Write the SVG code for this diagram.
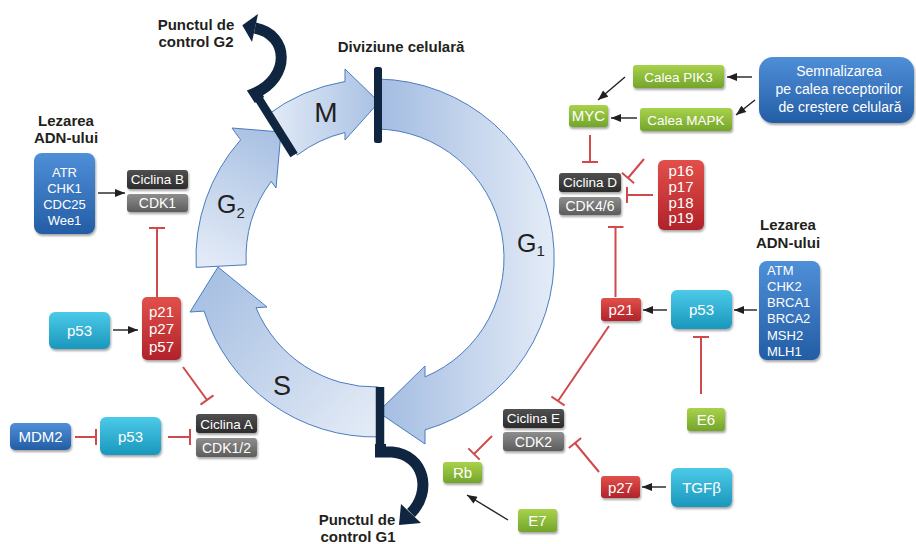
<svg xmlns="http://www.w3.org/2000/svg" width="916" height="544" viewBox="0 0 916 544">
<defs>
<style>
text{font-family:"Liberation Sans",Arial,sans-serif;}
.bt{fill:#fff;text-anchor:middle;}
.bl{fill:#fff;}
.lbl{fill:#231f20;font-weight:bold;font-size:15px;text-anchor:middle;}
.ph{fill:#231f20;}
.ring{stroke:#4a7cc0;stroke-width:1;}
.bar{fill:none;stroke:#0f2540;stroke-width:8.5;stroke-linejoin:miter;}
.hook{fill:none;stroke:#0f2540;stroke-width:11;stroke-linejoin:miter;}
.act{fill:none;stroke:#231f20;stroke-width:1.4;marker-end:url(#ah);}
.inh{fill:none;stroke:#d0494b;stroke-width:2;marker-end:url(#tb);}
.blue{fill:url(#gBlue);filter:url(#sh);}
.cyan{fill:url(#gCyan);filter:url(#sh);}
.green{fill:url(#gGreen);filter:url(#sh);}
.red{fill:url(#gRed);filter:url(#sh);}
.dark{fill:url(#gDark);filter:url(#sh);}
.gray{fill:url(#gGray);filter:url(#sh);}
</style>
<filter id="sh" x="-20%" y="-20%" width="140%" height="150%">
<feDropShadow dx="1" dy="2" stdDeviation="1.3" flood-color="#000" flood-opacity="0.35"/>
</filter>
<linearGradient id="gBlue" x1="0" y1="0" x2="0" y2="1"><stop offset="0" stop-color="#4f8fd8"/><stop offset="1" stop-color="#235da5"/></linearGradient>
<linearGradient id="gCyan" x1="0" y1="0" x2="0" y2="1"><stop offset="0" stop-color="#4ccae8"/><stop offset="1" stop-color="#1a97bd"/></linearGradient>
<linearGradient id="gGreen" x1="0" y1="0" x2="0" y2="1"><stop offset="0" stop-color="#a9d24c"/><stop offset="1" stop-color="#73a52a"/></linearGradient>
<linearGradient id="gRed" x1="0" y1="0" x2="0" y2="1"><stop offset="0" stop-color="#e2504b"/><stop offset="1" stop-color="#b1222a"/></linearGradient>
<linearGradient id="gDark" x1="0" y1="0" x2="0" y2="1"><stop offset="0" stop-color="#505050"/><stop offset="1" stop-color="#2c2c2c"/></linearGradient>
<linearGradient id="gGray" x1="0" y1="0" x2="0" y2="1"><stop offset="0" stop-color="#8e8e8e"/><stop offset="1" stop-color="#5c5c5c"/></linearGradient>
<linearGradient id="gG1" gradientUnits="userSpaceOnUse" x1="378" y1="0" x2="555" y2="0"><stop offset="0" stop-color="#a3bce1"/><stop offset="1" stop-color="#e4ecf7"/></linearGradient>
<linearGradient id="gM" gradientUnits="userSpaceOnUse" x1="267" y1="0" x2="379" y2="0"><stop offset="0" stop-color="#e4ecf7"/><stop offset="1" stop-color="#a9c1e3"/></linearGradient>
<linearGradient id="gG2" gradientUnits="userSpaceOnUse" x1="215" y1="265" x2="275" y2="135"><stop offset="0" stop-color="#e2eaf6"/><stop offset="1" stop-color="#a9c1e3"/></linearGradient>
<linearGradient id="gS" gradientUnits="userSpaceOnUse" x1="375" y1="420" x2="215" y2="280"><stop offset="0" stop-color="#e2eaf6"/><stop offset="1" stop-color="#a9c1e3"/></linearGradient>
<marker id="ah" viewBox="0 0 10 8" refX="10" refY="4" markerWidth="11" markerHeight="8" markerUnits="userSpaceOnUse" orient="auto"><path d="M0,0 L10,4 L0,8 z" fill="#231f20"/></marker>
<marker id="tb" viewBox="0 0 4 16" refX="2" refY="8" markerWidth="4" markerHeight="16" markerUnits="userSpaceOnUse" orient="auto"><path d="M2,0 V16" stroke="#d0494b" stroke-width="2"/></marker>
</defs>
<rect width="916" height="544" fill="#fff"/>

<g id="cycle">
<path id="arrow-G1" class="ring" fill="url(#gG1)" d="M378.1 79 A179 179 0 0 1 425 429.9 L425 444 L378 412 L425 366 L425 376.9 A129 129 0 0 0 377.3 129 Z"/>
<path id="arrow-M" class="ring" fill="url(#gM)" d="M267.3 115 A179 179 0 0 1 345 81.5 L345 69 L379 102 L345 140 L345 132.5 A129 129 0 0 0 297.4 155 Z"/>
<path id="arrow-G2" class="ring" fill="url(#gG2)" d="M196.2 267.4 A179 179 0 0 1 240.6 139.8 L232 128 L281 132 L276 188 L271.2 181.4 A129 129 0 0 0 246.2 264.8 Z"/>
<path id="arrow-S" class="ring" fill="url(#gS)" d="M379.7 436.9 A179 179 0 0 1 204.1 311.1 L190 312 L218 267 L267 307 L256 307.7 A129 129 0 0 0 378.4 387 Z"/>
<rect x="374" y="67" width="8" height="76" rx="2.5" fill="#0f2540"/>
<path class="bar" d="M294 155 L257 96"/>
<path class="hook" d="M259.5 100 L255 93 C290 78 290 35 255 28"/>
<polygon points="242.3,25.2 258,14 252,42" fill="#0f2540"/>
<path class="bar" d="M380 387 L380 450"/>
<path class="hook" d="M380.5 444 L380.5 452 L392 452 C425 455 432 492 411 513"/>
<polygon points="399,525 401,504 421,523" fill="#0f2540"/>
<text class="ph" x="326" y="122" font-size="28" text-anchor="middle">M</text>
<text class="ph" x="217" y="213" font-size="25">G<tspan font-size="15" dy="5">2</tspan></text>
<text class="ph" x="517" y="252" font-size="25">G<tspan font-size="15" dy="4">1</tspan></text>
<text class="ph" x="282" y="395" font-size="27" text-anchor="middle">S</text>
</g>

<g id="labels">
<text class="lbl" x="196" y="30">Punctul de</text>
<text class="lbl" x="196" y="47">control G2</text>
<text class="lbl" x="401" y="52">Diviziune celulară</text>
<text class="lbl" x="66" y="126">Lezarea</text>
<text class="lbl" x="66" y="143">ADN-ului</text>
<text class="lbl" x="788" y="230">Lezarea</text>
<text class="lbl" x="788" y="248">ADN-ului</text>
<text class="lbl" x="357" y="525">Punctul de</text>
<text class="lbl" x="358" y="542">control G1</text>
</g>

<g id="connectors">
<line class="act" x1="98" y1="193" x2="125" y2="193"/>
<line class="act" x1="113" y1="330" x2="138" y2="330"/>
<line class="act" x1="752" y1="77" x2="727" y2="77"/>
<line class="act" x1="755" y1="100" x2="736" y2="115"/>
<line class="act" x1="625" y1="77" x2="598" y2="100"/>
<line class="act" x1="637" y1="118" x2="611" y2="118"/>
<line class="act" x1="667" y1="310" x2="643" y2="310"/>
<line class="act" x1="757" y1="310" x2="734" y2="310"/>
<line class="act" x1="666" y1="487" x2="642" y2="487"/>
<line class="act" x1="508" y1="520" x2="467" y2="495"/>
<line class="inh" x1="157" y1="297" x2="157" y2="228"/>
<line class="inh" x1="183" y1="367" x2="207" y2="400"/>
<line class="inh" x1="75" y1="437" x2="96" y2="437"/>
<line class="inh" x1="168" y1="437" x2="190" y2="437"/>
<line class="inh" x1="590" y1="135" x2="590" y2="162"/>
<line class="inh" x1="653" y1="195" x2="627" y2="195"/>
<line class="inh" x1="644" y1="159" x2="628" y2="178"/>
<line class="inh" x1="615.5" y1="297" x2="615.5" y2="227"/>
<line class="inh" x1="701" y1="394" x2="701" y2="337"/>
<line class="inh" x1="609" y1="326" x2="558" y2="401"/>
<line class="inh" x1="492" y1="436" x2="474" y2="454"/>
<line class="inh" x1="599" y1="472" x2="575" y2="443"/>
</g>

<g id="n-atr"><rect class="blue" x="34" y="153" width="61" height="81" rx="8"/>
<text class="bt" font-size="13"><tspan x="64.5" y="176.7">ATR</tspan><tspan x="64.5" y="192.7">CHK1</tspan><tspan x="64.5" y="208.7">CDC25</tspan><tspan x="64.5" y="224.7">Wee1</tspan></text></g>
<g id="n-ciclinaB"><rect class="dark" x="127" y="170" width="61" height="19" rx="3"/><text class="bt" x="157.5" y="184.3" font-size="13.5">Ciclina B</text></g>
<g id="n-cdk1"><rect class="gray" x="127" y="194" width="61" height="18" rx="3"/><text class="bt" x="157.5" y="208" font-size="14">CDK1</text></g>
<g id="n-p53a"><rect class="cyan" x="49" y="312" width="61" height="37" rx="6"/><text class="bt" x="79.5" y="336" font-size="15">p53</text></g>
<g id="n-p21p27p57"><rect class="red" x="142" y="297" width="39" height="63" rx="5"/>
<text class="bt" font-size="15"><tspan x="161.5" y="316.5">p21</tspan><tspan x="161.5" y="334">p27</tspan><tspan x="161.5" y="352">p57</tspan></text></g>
<g id="n-ciclinaA"><rect class="dark" x="196" y="414" width="61" height="19" rx="3"/><text class="bt" x="226.5" y="428.5" font-size="13.5">Ciclina A</text></g>
<g id="n-cdk12"><rect class="gray" x="196" y="438" width="61" height="19" rx="3"/><text class="bt" x="226.5" y="452.5" font-size="14">CDK1/2</text></g>
<g id="n-mdm2"><rect class="blue" x="10" y="423" width="61" height="27" rx="5"/><text class="bt" x="40.5" y="442" font-size="15">MDM2</text></g>
<g id="n-p53b"><rect class="cyan" x="100" y="417" width="61" height="38" rx="6"/><text class="bt" x="130.5" y="441.5" font-size="15">p53</text></g>

<g id="n-pik3"><rect class="green" x="633" y="65" width="91" height="23" rx="3"/><text class="bt" x="678.5" y="81.5" font-size="13.5">Calea PIK3</text></g>
<g id="n-semn"><rect class="blue" x="759" y="57" width="155" height="66" rx="14"/>
<text class="bt" font-size="14"><tspan x="839" y="76">Semnalizarea</tspan><tspan x="839" y="94">pe calea receptorilor</tspan><tspan x="840" y="112">de creștere celulară</tspan></text></g>
<g id="n-myc"><rect class="green" x="569" y="105" width="39" height="22" rx="3"/><text class="bt" x="588.5" y="121.4" font-size="15">MYC</text></g>
<g id="n-mapk"><rect class="green" x="640" y="108" width="92" height="23" rx="3"/><text class="bt" x="686" y="124.5" font-size="13.5">Calea MAPK</text></g>
<g id="n-ciclinaD"><rect class="dark" x="559" y="173" width="62" height="19" rx="3"/><text class="bt" x="590" y="187.3" font-size="13.5">Ciclina D</text></g>
<g id="n-cdk46"><rect class="gray" x="559" y="197" width="62" height="18" rx="3"/><text class="bt" x="590" y="211" font-size="14">CDK4/6</text></g>
<g id="n-p16"><rect class="red" x="658" y="160" width="46" height="70" rx="6"/>
<text class="bt" font-size="15"><tspan x="681" y="176">p16</tspan><tspan x="681" y="192">p17</tspan><tspan x="681" y="207.5">p18</tspan><tspan x="681" y="223">p19</tspan></text></g>
<g id="n-p21"><rect class="red" x="601" y="298" width="40" height="23" rx="3"/><text class="bt" x="621" y="315" font-size="15">p21</text></g>
<g id="n-p53c"><rect class="cyan" x="671" y="290" width="61" height="39" rx="6"/><text class="bt" x="701.5" y="315" font-size="15">p53</text></g>
<g id="n-atm"><rect class="blue" x="759" y="261" width="61" height="99" rx="8"/>
<text class="bl" font-size="13"><tspan x="767" y="275">ATM</tspan><tspan x="767" y="291">CHK2</tspan><tspan x="767" y="307">BRCA1</tspan><tspan x="767" y="323">BRCA2</tspan><tspan x="767" y="339.5">MSH2</tspan><tspan x="767" y="356">MLH1</tspan></text></g>
<g id="n-e6"><rect class="green" x="687" y="408" width="38" height="23" rx="3"/><text class="bt" x="706" y="425" font-size="15">E6</text></g>
<g id="n-ciclinaE"><rect class="dark" x="503" y="409" width="61" height="19" rx="3"/><text class="bt" x="533.5" y="423.3" font-size="13.5">Ciclina E</text></g>
<g id="n-cdk2"><rect class="gray" x="503" y="432" width="61" height="19" rx="3"/><text class="bt" x="533.5" y="446.5" font-size="14">CDK2</text></g>
<g id="n-rb"><rect class="green" x="443" y="462" width="39" height="21" rx="3"/><text class="bt" x="462.5" y="478" font-size="15">Rb</text></g>
<g id="n-p27"><rect class="red" x="601" y="476" width="39" height="22" rx="3"/><text class="bt" x="620.5" y="492.5" font-size="15">p27</text></g>
<g id="n-tgfb"><rect class="cyan" x="671" y="468" width="61" height="39" rx="6"/><text class="bt" x="701.5" y="493" font-size="15">TGFβ</text></g>
<g id="n-e7"><rect class="green" x="518" y="509" width="39" height="23" rx="3"/><text class="bt" x="537.5" y="526" font-size="15">E7</text></g>
</svg>
